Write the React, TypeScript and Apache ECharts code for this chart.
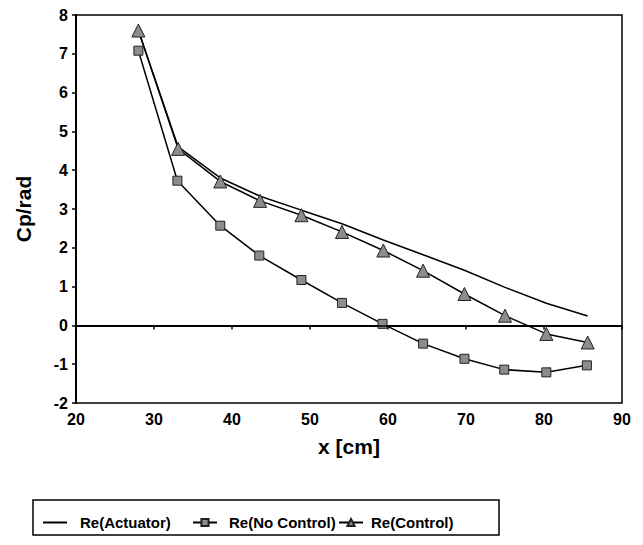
import React, { useEffect, useRef } from "react";
import * as echarts from "echarts";

const xControl = [28.0, 33.1, 38.5, 43.6, 48.9, 54.1, 59.4, 64.5, 69.8, 75.0, 80.3, 85.6];
const control = [7.6, 4.55, 3.71, 3.21, 2.84, 2.41, 1.93, 1.41, 0.81, 0.25, -0.22, -0.44];
const xNoControl = [28.0, 33.0, 38.5, 43.5, 48.9, 54.1, 59.3, 64.5, 69.8, 74.9, 80.3, 85.5];
const noControl = [7.08, 3.73, 2.57, 1.8, 1.17, 0.58, 0.04, -0.47, -0.86, -1.14, -1.21, -1.03];
const xActuator = [28.0, 33.1, 38.5, 43.6, 48.9, 54.1, 59.4, 64.5, 69.8, 75.0, 80.3, 85.6];
const actuator = [7.6, 4.6, 3.8, 3.33, 2.97, 2.62, 2.2, 1.82, 1.42, 0.98, 0.57, 0.24];
const seriesNames = ["Re(Actuator)", "Re(No Control)", "Re(Control)"];

const FONT = '"Liberation Sans", Arial, sans-serif';

const zip = (xs: number[], ys: number[]) => xs.map((x, i) => [x, ys[i]]);

export default function App() {
  const ref = useRef<HTMLDivElement>(null);
  useEffect(() => {
    if (!ref.current) return;
    const chart = echarts.init(ref.current, null, { renderer: "svg" });
    const legendBase = {
      top: 515,
      padding: 0,
      itemWidth: 24,
      itemHeight: 9,
      textStyle: { fontFamily: FONT, fontSize: 15, fontWeight: "bold", color: "#000" },
    };
    chart.setOption({
      animation: false,
      backgroundColor: "#fff",
      grid: {
        left: 76,
        right: 21,
        top: 15,
        bottom: 142,
        show: true,
        borderColor: "#000",
        borderWidth: 1.5,
      },
      xAxis: {
        type: "value",
        min: 20,
        max: 90,
        interval: 10,
        name: "x [cm]",
        nameLocation: "middle",
        nameGap: 33,
        nameTextStyle: { fontFamily: FONT, fontSize: 21, fontWeight: "bold", color: "#000" },
        axisLine: { lineStyle: { color: "#000", width: 2 } },
        axisTick: { length: 4, lineStyle: { color: "#000", width: 1.5 } },
        axisLabel: { margin: 8, fontFamily: FONT, fontSize: 16, fontWeight: "bold", color: "#000" },
        splitLine: { show: false },
      },
      yAxis: {
        type: "value",
        min: -2,
        max: 8,
        interval: 1,
        name: "Cp/rad",
        nameLocation: "middle",
        nameGap: 42,
        nameTextStyle: { fontFamily: FONT, fontSize: 21, fontWeight: "bold", color: "#000" },
        axisLine: { onZero: false, lineStyle: { color: "#000", width: 2 } },
        axisTick: { length: 4, lineStyle: { color: "#000", width: 1.5 } },
        axisLabel: { margin: 8, fontFamily: FONT, fontSize: 16, fontWeight: "bold", color: "#000" },
        splitLine: { show: false },
      },
      legend: [
        {
          ...legendBase,
          left: 42,
          data: [seriesNames[0]],
          itemStyle: { opacity: 0 },
          textStyle: { ...legendBase.textStyle, padding: [0, 0, 0, 8] },
        },
        { ...legendBase, left: 192, data: [seriesNames[1]], textStyle: { ...legendBase.textStyle, padding: [0, 0, 0, 7] } },
        { ...legendBase, left: 338, data: [seriesNames[2]], textStyle: { ...legendBase.textStyle, padding: [0, 0, 0, 3] } },
      ],
      graphic: [
        {
          type: "rect",
          shape: { x: 33, y: 500, width: 466, height: 35 },
          style: { fill: "none", stroke: "#000", lineWidth: 1.5 },
          silent: true,
        },
      ],
      series: [
        {
          name: seriesNames[0],
          type: "line",
          data: zip(xActuator, actuator),
          symbol: "none",
          lineStyle: { color: "#000", width: 1.5 },
          itemStyle: { color: "#000" },
          markLine: {
            silent: true,
            symbol: "none",
            label: { show: false },
            lineStyle: { color: "#000", width: 1.5, type: "solid" },
            data: [{ yAxis: 0 }],
          },
        },
        {
          name: seriesNames[1],
          type: "line",
          data: zip(xNoControl, noControl),
          symbol: "rect",
          symbolSize: 9,
          lineStyle: { color: "#000", width: 1.5 },
          itemStyle: { color: "#8c8c8c", borderColor: "#222", borderWidth: 1 },
        },
        {
          name: seriesNames[2],
          type: "line",
          data: zip(xControl, control),
          symbol: "triangle",
          symbolSize: 13,
          lineStyle: { color: "#000", width: 1.5 },
          itemStyle: { color: "#8c8c8c", borderColor: "#222", borderWidth: 1 },
        },
      ],
    });
    return () => chart.dispose();
  }, []);
  return <div ref={ref} style={{ position: "fixed", left: 0, top: 0, width: 643, height: 545 }} />;
}
